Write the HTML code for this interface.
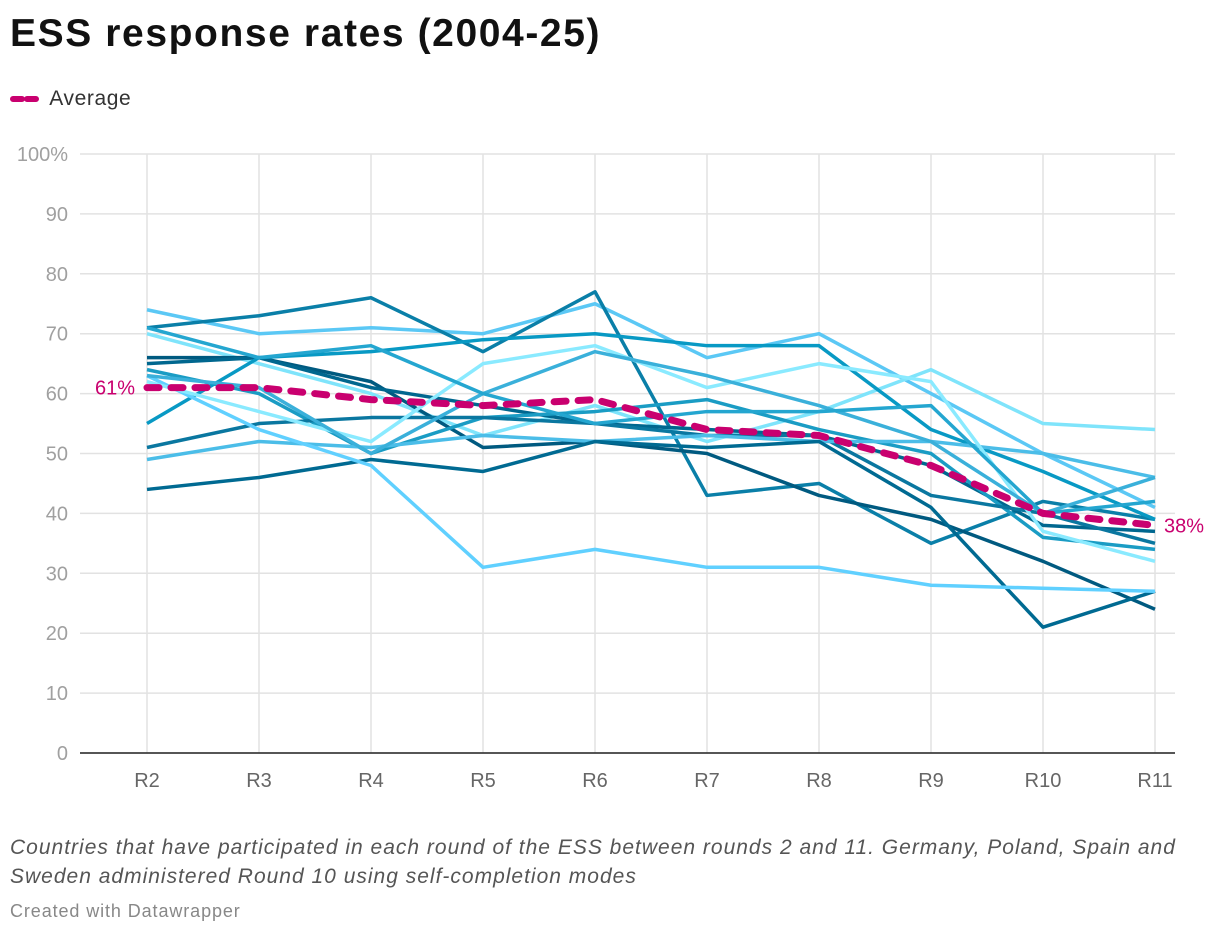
<!DOCTYPE html>
<html><head><meta charset="utf-8">
<style>
body{margin:0;background:#fff;font-family:"Liberation Sans",sans-serif;width:1220px;height:936px;overflow:hidden;position:relative}
.t{position:absolute;left:10px;top:12px;font-size:39px;font-weight:bold;color:#111;letter-spacing:1.6px}
.lg{position:absolute;left:10px;top:87px;font-size:21px;color:#333;letter-spacing:0.6px}
.note{position:absolute;left:10px;top:833px;font-size:21px;font-style:italic;color:#555;line-height:29px;letter-spacing:1.0px;white-space:nowrap}
.cr{position:absolute;left:10px;top:901px;font-size:18px;color:#888;letter-spacing:0.9px}
svg{position:absolute;left:0;top:0}
</style></head><body>
<div class="t">ESS response rates (2004-25)</div>
<div class="lg"><svg width="34" height="24" style="position:relative;vertical-align:middle"><line x1="3" y1="12" x2="27" y2="12" stroke="#c9006f" stroke-width="6" stroke-dasharray="9,5" stroke-linecap="round"/></svg> Average</div>
<svg id="chart" width="1220" height="936"></svg>
<div class="note">Countries that have participated in each round of the ESS between rounds 2 and 11. Germany, Poland, Spain and<br>Sweden administered Round 10 using self-completion modes</div>
<div class="cr">Created with Datawrapper</div>
<script>
const categories=["R2","R3","R4","R5","R6","R7","R8","R9","R10","R11"];
const yTicks=[0,10,20,30,40,50,60,70,80,90,100];
const s1=[74,70,71,70,75,66,70,60,50,41];
const s2=[71,73,76,67,77,43,45,35,42,39];
const s3=[70,65,60,53,58,52,57,64,55,54];
const s4=[66,66,62,51,52,50,43,39,32,24];
const s5=[65,66,61,58,55,54,53,48,38,37];
const s6=[64,60,50,56,57,59,54,50,36,34];
const s7=[55,66,67,69,70,68,68,54,47,39];
const s8=[51,55,56,56,55,53,53,43,40,35];
const s9=[49,52,51,53,52,53,52,52,50,46];
const s10=[44,46,49,47,52,51,52,41,21,27];
const s11=[63,54,48,31,34,31,31,28,27.5,27];
const s12=[62,57,52,65,68,61,65,62,37,32];
const s13=[63,61,50,60,67,63,58,52,40,46];
const s14=[71,66,68,60,55,57,57,58,40,42];
const average=[61,61,59,58,59,54,53,48,40,38];
const seriesList=[s1,s2,s3,s4,s5,s6,s7,s8,s9,s10,s11,s12,s13,s14];
const colors=["#5bc8f5","#0a7fa8","#7fe4fb","#005a80","#00678f","#1a9cc4","#0899c4","#0a77a0","#4bbde8","#006a92","#60d0ff","#8aeaff","#3ab0da","#24a6d0"];
const svg=document.getElementById('chart');const NS="http://www.w3.org/2000/svg";
const X=i=>147+i*112, Y=v=>753-v*5.99;
function mk(t,a){const e=document.createElementNS(NS,t);for(const k in a)e.setAttribute(k,a[k]);svg.appendChild(e);return e;}
yTicks.forEach(v=>{const l=mk('line',{x1:80,x2:1175,y1:Y(v),y2:Y(v),stroke:'#e2e2e2','stroke-width':1.5});

const t=mk('text',{x:68,y:Y(v)+7,'text-anchor':'end','font-size':20,fill:'#a0a0a0'});t.textContent=v===100?'100%':v;
});
categories.forEach((c,i)=>{const l=mk('line',{x1:X(i),x2:X(i),y1:154,y2:753,stroke:'#e2e2e2','stroke-width':1.5});

const t=mk('text',{x:X(i),y:787,'text-anchor':'middle','font-size':20,fill:'#666'});t.textContent=c;
});
mk('line',{x1:80,x2:1175,y1:753,y2:753,stroke:'#222','stroke-width':1.5});
seriesList.forEach((s,k)=>{const p=mk('polyline',{points:s.map((v,i)=>X(i)+','+Y(v)).join(' '),fill:'none',stroke:colors[k],'stroke-width':3.5,'stroke-linejoin':'round'});
});
const a=mk('polyline',{points:average.map((v,i)=>X(i)+','+Y(v)).join(' '),fill:'none',stroke:'#c9006f','stroke-width':7,'stroke-dasharray':'12,12','stroke-linecap':'round'});

const l1=mk('text',{x:135,y:Y(average[0])+7,'text-anchor':'end','font-size':20,fill:'#c9006f'});l1.textContent=average[0]+'%';

const l2=mk('text',{x:1164,y:Y(average[9])+7,'font-size':20,fill:'#c9006f'});l2.textContent=average[9]+'%';

</script>
</body></html>
